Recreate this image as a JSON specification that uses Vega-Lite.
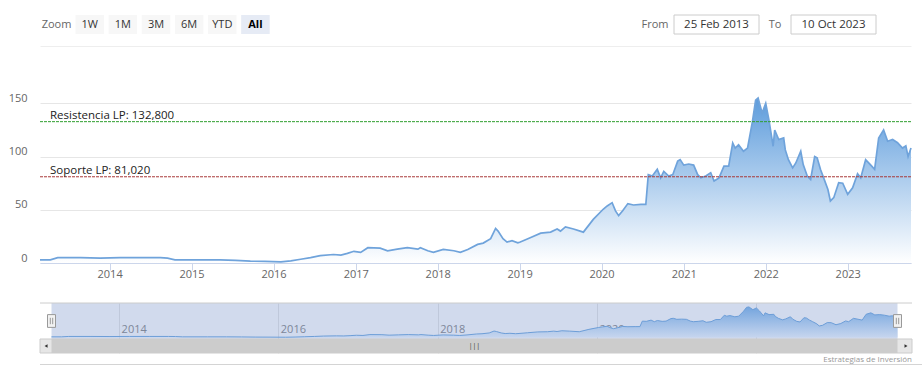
{
  "$schema": "https://vega.github.io/schema/vega-lite/v6.json",
  "autosize": {"type": "pad"},
  "padding": {"left": 6, "top": 14, "right": 0, "bottom": 4},
  "background": "white",
  "config": {"font": "Open Sans", "view": {"stroke": null}},
  "datasets": {
    "serie": [
      {"fecha": "2013-02-25", "valor": 3},
      {"fecha": "2013-04-12", "valor": 3},
      {"fecha": "2013-05-15", "valor": 5},
      {"fecha": "2013-08-25", "valor": 5},
      {"fecha": "2013-11-20", "valor": 4.5},
      {"fecha": "2014-02-17", "valor": 5},
      {"fecha": "2014-05-19", "valor": 5},
      {"fecha": "2014-08-15", "valor": 5},
      {"fecha": "2014-09-16", "valor": 4.5},
      {"fecha": "2014-10-19", "valor": 3},
      {"fecha": "2015-02-10", "valor": 3},
      {"fecha": "2015-05-08", "valor": 3},
      {"fecha": "2015-07-16", "valor": 2.5},
      {"fecha": "2015-09-20", "valor": 1.7},
      {"fecha": "2015-11-24", "valor": 1.5},
      {"fecha": "2016-02-03", "valor": 1},
      {"fecha": "2016-03-18", "valor": 2},
      {"fecha": "2016-05-01", "valor": 3.5},
      {"fecha": "2016-06-14", "valor": 5},
      {"fecha": "2016-07-27", "valor": 7},
      {"fecha": "2016-09-24", "valor": 8},
      {"fecha": "2016-10-27", "valor": 7.5},
      {"fecha": "2016-11-25", "valor": 9},
      {"fecha": "2016-12-24", "valor": 11},
      {"fecha": "2017-01-23", "valor": 10},
      {"fecha": "2017-02-24", "valor": 14.4},
      {"fecha": "2017-04-20", "valor": 14},
      {"fecha": "2017-05-23", "valor": 11.5},
      {"fecha": "2017-07-05", "valor": 13},
      {"fecha": "2017-08-19", "valor": 14.4},
      {"fecha": "2017-10-05", "valor": 13},
      {"fecha": "2017-10-16", "valor": 14.4},
      {"fecha": "2017-11-18", "valor": 11.5},
      {"fecha": "2017-12-13", "valor": 10},
      {"fecha": "2018-01-26", "valor": 12.7},
      {"fecha": "2018-03-14", "valor": 11.5},
      {"fecha": "2018-04-12", "valor": 10},
      {"fecha": "2018-05-15", "valor": 12.7},
      {"fecha": "2018-06-28", "valor": 17.5},
      {"fecha": "2018-07-23", "valor": 18.7},
      {"fecha": "2018-08-25", "valor": 22.8},
      {"fecha": "2018-09-16", "valor": 32.5},
      {"fecha": "2018-09-27", "valor": 30},
      {"fecha": "2018-10-19", "valor": 22.8},
      {"fecha": "2018-11-06", "valor": 19.7},
      {"fecha": "2018-11-28", "valor": 21},
      {"fecha": "2018-12-24", "valor": 19},
      {"fecha": "2019-01-04", "valor": 19.7},
      {"fecha": "2019-02-17", "valor": 23.7},
      {"fecha": "2019-04-05", "valor": 28},
      {"fecha": "2019-05-19", "valor": 29},
      {"fecha": "2019-06-17", "valor": 32},
      {"fecha": "2019-07-02", "valor": 30},
      {"fecha": "2019-07-24", "valor": 34},
      {"fecha": "2019-08-29", "valor": 32},
      {"fecha": "2019-10-12", "valor": 29},
      {"fecha": "2019-11-25", "valor": 41},
      {"fecha": "2020-01-08", "valor": 50.5},
      {"fecha": "2020-01-26", "valor": 53.6},
      {"fecha": "2020-02-17", "valor": 56.7},
      {"fecha": "2020-03-03", "valor": 49},
      {"fecha": "2020-03-17", "valor": 44.5},
      {"fecha": "2020-04-04", "valor": 49},
      {"fecha": "2020-04-27", "valor": 55.8},
      {"fecha": "2020-05-22", "valor": 54.5},
      {"fecha": "2020-06-24", "valor": 55},
      {"fecha": "2020-07-16", "valor": 55},
      {"fecha": "2020-07-27", "valor": 83},
      {"fecha": "2020-08-14", "valor": 81.7},
      {"fecha": "2020-09-05", "valor": 88},
      {"fecha": "2020-09-20", "valor": 80},
      {"fecha": "2020-10-04", "valor": 86},
      {"fecha": "2020-10-26", "valor": 81.7},
      {"fecha": "2020-11-13", "valor": 83},
      {"fecha": "2020-12-05", "valor": 95.7},
      {"fecha": "2020-12-16", "valor": 97.2},
      {"fecha": "2021-01-01", "valor": 92},
      {"fecha": "2021-01-23", "valor": 93},
      {"fecha": "2021-02-14", "valor": 92},
      {"fecha": "2021-03-04", "valor": 83},
      {"fecha": "2021-03-18", "valor": 80},
      {"fecha": "2021-04-09", "valor": 81.7},
      {"fecha": "2021-05-01", "valor": 84.8},
      {"fecha": "2021-05-16", "valor": 77},
      {"fecha": "2021-06-07", "valor": 80},
      {"fecha": "2021-06-29", "valor": 91},
      {"fecha": "2021-07-20", "valor": 91},
      {"fecha": "2021-08-07", "valor": 112.8},
      {"fecha": "2021-08-18", "valor": 108},
      {"fecha": "2021-09-02", "valor": 111},
      {"fecha": "2021-09-24", "valor": 105},
      {"fecha": "2021-10-12", "valor": 108},
      {"fecha": "2021-11-03", "valor": 133},
      {"fecha": "2021-11-17", "valor": 153},
      {"fecha": "2021-11-28", "valor": 155},
      {"fecha": "2021-12-16", "valor": 141},
      {"fecha": "2022-01-01", "valor": 150},
      {"fecha": "2022-01-15", "valor": 134.6},
      {"fecha": "2022-02-03", "valor": 109.7},
      {"fecha": "2022-02-10", "valor": 125},
      {"fecha": "2022-02-28", "valor": 116},
      {"fecha": "2022-03-22", "valor": 117.5},
      {"fecha": "2022-03-29", "valor": 106.5},
      {"fecha": "2022-04-12", "valor": 97},
      {"fecha": "2022-05-01", "valor": 89.4},
      {"fecha": "2022-05-15", "valor": 94},
      {"fecha": "2022-06-06", "valor": 105},
      {"fecha": "2022-06-17", "valor": 92.5},
      {"fecha": "2022-07-05", "valor": 81.7},
      {"fecha": "2022-07-20", "valor": 78.5},
      {"fecha": "2022-08-07", "valor": 100},
      {"fecha": "2022-08-18", "valor": 98.8},
      {"fecha": "2022-09-02", "valor": 87.9},
      {"fecha": "2022-09-16", "valor": 80},
      {"fecha": "2022-10-05", "valor": 69},
      {"fecha": "2022-10-16", "valor": 58.3},
      {"fecha": "2022-10-31", "valor": 61.4},
      {"fecha": "2022-11-22", "valor": 75.4},
      {"fecha": "2022-12-10", "valor": 75},
      {"fecha": "2023-01-01", "valor": 64.5},
      {"fecha": "2023-01-23", "valor": 70.7},
      {"fecha": "2023-02-14", "valor": 83.8},
      {"fecha": "2023-02-28", "valor": 80},
      {"fecha": "2023-03-22", "valor": 97},
      {"fecha": "2023-04-12", "valor": 92.5},
      {"fecha": "2023-05-01", "valor": 88},
      {"fecha": "2023-05-19", "valor": 117.5},
      {"fecha": "2023-06-10", "valor": 125},
      {"fecha": "2023-06-28", "valor": 114.4},
      {"fecha": "2023-07-20", "valor": 116},
      {"fecha": "2023-08-11", "valor": 113},
      {"fecha": "2023-09-02", "valor": 108},
      {"fecha": "2023-09-17", "valor": 110},
      {"fecha": "2023-09-27", "valor": 100},
      {"fecha": "2023-10-10", "valor": 108}
    ]
  },
  "spacing": 0,
  "vconcat": [
    {
      "bounds": "flush",
      "spacing": 5,
      "hconcat": [
        {
          "width": 232,
          "height": 19,
          "data": {"values": [{"b": "Zoom"}, {"b": "1W"}, {"b": "1M"}, {"b": "3M"}, {"b": "6M"}, {"b": "YTD"}, {"b": "All"}]},
          "encoding": {
            "x": {"field": "b", "type": "nominal", "sort": null, "axis": null,
                  "scale": {"domain": ["Zoom", "1W", "1M", "3M", "6M", "YTD", "All"], "paddingInner": 0.14, "paddingOuter": 0.07}}
          },
          "layer": [
            {
              "transform": [{"filter": "datum.b !== 'Zoom'"}],
              "mark": {"type": "rect"},
              "encoding": {"fill": {"condition": {"test": "datum.b === 'All'", "value": "#e6ebf5"}, "value": "#f7f7f7"}}
            },
            {
              "transform": [{"filter": "datum.b !== 'All'"}],
              "mark": {"type": "text", "fontSize": 11},
              "encoding": {
                "text": {"field": "b"},
                "color": {"condition": {"test": "datum.b === 'Zoom'", "value": "#666666"}, "value": "#333333"}
              }
            },
            {
              "transform": [{"filter": "datum.b === 'All'"}],
              "mark": {"type": "text", "fontSize": 11, "fontWeight": "bold", "color": "#000000"},
              "encoding": {"text": {"field": "b"}}
            },
            {
              "transform": [{"filter": "datum.b === 'All'"}],
              "mark": {"type": "rule", "opacity": 0},
              "encoding": {
                "x": {"field": "b", "type": "nominal"},
                "y": {"datum": 0, "type": "quantitative",
                      "axis": {"title": null, "labels": false, "ticks": false, "domain": false, "grid": false, "minExtent": 34, "maxExtent": 34}}
              }
            }
          ]
        },
        {
          "width": 359, "height": 19,
          "data": {"values": [{"a": 1}]},
          "mark": {"type": "rect", "opacity": 0},
          "encoding": {}
        },
        {
          "width": 28, "height": 19,
          "data": {"values": [{"t": "From"}]},
          "mark": {"type": "text", "fontSize": 11, "color": "#666666"},
          "encoding": {"text": {"field": "t"}}
        },
        {
          "width": 85, "height": 19,
          "data": {"values": [{"t": "25 Feb 2013"}]},
          "layer": [
            {"mark": {"type": "rect", "fill": "#ffffff", "stroke": "#cccccc", "strokeWidth": 1}, "encoding": {}},
            {"mark": {"type": "text", "fontSize": 11.5, "color": "#333333"}, "encoding": {"text": {"field": "t"}}}
          ]
        },
        {
          "width": 22, "height": 19,
          "data": {"values": [{"t": "To"}]},
          "mark": {"type": "text", "fontSize": 11, "color": "#666666"},
          "encoding": {"text": {"field": "t"}}
        },
        {
          "width": 85, "height": 19,
          "data": {"values": [{"t": "10 Oct 2023"}]},
          "layer": [
            {"mark": {"type": "rect", "fill": "#ffffff", "stroke": "#cccccc", "strokeWidth": 1}, "encoding": {}},
            {"mark": {"type": "text", "fontSize": 11.5, "color": "#333333"}, "encoding": {"text": {"field": "t"}}}
          ]
        }
      ]
    },
    {
      "width": 871,
      "height": 174,
      "resolve": {"axis": {"x": "independent"}},
      "layer": [
        {
          "data": {"name": "serie"},
          "mark": {
            "type": "area",
            "fillOpacity": 1,
            "color": {"x1": 0, "y1": 0, "x2": 0, "y2": 1, "gradient": "linear",
                      "stops": [{"offset": 0, "color": "#5d9cdc"}, {"offset": 1, "color": "#ffffff"}]},
            "line": {"color": "#6fa3db", "strokeWidth": 1.7}
          },
          "encoding": {
            "x": {
              "field": "fecha", "type": "temporal",
              "scale": {"domain": [{"year": 2013, "month": 2, "date": 25}, {"year": 2023, "month": 10, "date": 10}]},
              "axis": {"title": null, "orient": "bottom", "format": "%Y", "tickCount": {"interval": "year", "step": 1}, "grid": false,
                       "domainColor": "#ccd6eb", "tickColor": "#ccd6eb", "tickSize": 7, "labelPadding": -2,
                       "labelColor": "#666666", "labelFontSize": 11, "labelFlush": false, "labelOverlap": false, "minExtent": 39}
            },
            "y": {
              "field": "valor", "type": "quantitative",
              "scale": {"domain": [0, 163.5], "nice": false},
              "axis": {"title": null, "values": [0, 50, 100, 150], "domain": false, "ticks": false, "grid": true,
                       "gridColor": "#e6e6e6", "labelPadding": 13, "labelColor": "#666666", "labelFontSize": 11,
                       "labelBaseline": "alphabetic", "labelOffset": -2, "minExtent": 34}
            }
          }
        },
        {
          "data": {"values": [{"nivel": "Resistencia LP", "valor": 132.8}]},
          "mark": {"type": "rule", "strokeWidth": 1, "strokeDash": [3, 1], "color": "#2f9e2f"},
          "encoding": {"y": {"field": "valor", "type": "quantitative"}}
        },
        {
          "data": {"values": [{"nivel": "Soporte LP", "valor": 81.02}]},
          "mark": {"type": "rule", "strokeWidth": 1, "strokeDash": [3, 1], "color": "#a83838"},
          "encoding": {"y": {"field": "valor", "type": "quantitative"}}
        },
        {
          "data": {"values": [{"etiqueta": "Resistencia LP: 132,800", "valor": 132.8}, {"etiqueta": "Soporte LP: 81,020", "valor": 81.02}]},
          "mark": {"type": "text", "align": "left", "baseline": "alphabetic", "dx": 10, "dy": -3, "fontSize": 11.5, "color": "#222222"},
          "encoding": {
            "x": {"datum": {"year": 2013, "month": 2, "date": 25}, "type": "temporal",
                  "axis": {"title": null, "orient": "top", "offset": 43, "minExtent": 11, "maxExtent": 11,
                           "domain": true, "domainColor": "#eeeeee", "labels": false, "ticks": false, "grid": false}},
            "y": {"field": "valor", "type": "quantitative"},
            "text": {"field": "etiqueta"}
          }
        }
      ]
    },
    {
      "width": 872,
      "height": 50,
      "title": {"text": "Estrategias de Inversión", "orient": "bottom", "anchor": "end", "frame": "group", "fontSize": 8,
                "fontWeight": "normal", "color": "#999999", "offset": 2},
      "layer": [
        {
          "data": {"values": [{"a": 1}]},
          "mark": {"type": "rect", "fill": "#6685c2", "opacity": 0.3},
          "encoding": {
            "x": {
              "datum": {"year": 2013, "month": 2, "date": 25}, "type": "temporal",
              "scale": {"domain": [{"year": 2013, "month": 2, "date": 25}, {"year": 2023, "month": 10, "date": 10}], "range": [11.5, 857.5]},
              "axis": {"title": null, "orient": "bottom", "format": "%Y", "tickCount": {"interval": "year", "step": 2},
                       "grid": true, "gridColor": "#e6e6e6", "domain": false, "ticks": false, "tickSize": 0,
                       "labelAlign": "left", "labelPadding": -30, "labelOffset": 2, "labelColor": "#888888",
                       "labelFontSize": 11, "labelFlush": false, "labelOverlap": false}
            },
            "x2": {"datum": {"year": 2023, "month": 10, "date": 10}},
            "y": {"datum": 175, "type": "quantitative",
                  "scale": {"domain": [-79.17, 175], "nice": false, "zero": false},
                  "axis": {"title": null, "labels": false, "ticks": false, "domain": false, "grid": false, "minExtent": 34, "maxExtent": 34}},
            "y2": {"datum": -8}
          }
        },
        {
          "data": {"name": "serie"},
          "mark": {
            "type": "area",
            "fillOpacity": 1,
            "color": {"x1": 0, "y1": 0, "x2": 0, "y2": 1, "gradient": "linear",
                      "stops": [{"offset": 0, "color": "#74a5de"}, {"offset": 1, "color": "#c6d5ee"}]},
            "line": {"color": "#6d9ed8", "strokeWidth": 1}
          },
          "encoding": {
            "x": {"field": "fecha", "type": "temporal"},
            "y": {"field": "valor", "type": "quantitative"},
            "y2": {"datum": 0}
          }
        },
        {
          "data": {"values": [{"a": 1}]},
          "mark": {"type": "rule", "color": "#cccccc", "strokeWidth": 1},
          "encoding": {"y": {"datum": 175, "type": "quantitative"}}
        },
        {
          "data": {"values": [{"a": 1}]},
          "mark": {"type": "rect", "fill": "#e6e6e6", "stroke": "#cccccc", "strokeWidth": 1},
          "encoding": {"y": {"datum": -8, "type": "quantitative"}, "y2": {"datum": -79.17}}
        },
        {
          "data": {"values": [{"a": 1}]},
          "mark": {"type": "rect", "fill": "#cccccc"},
          "encoding": {
            "x": {"datum": {"year": 2013, "month": 2, "date": 25}, "type": "temporal"},
            "x2": {"datum": {"year": 2023, "month": 10, "date": 10}},
            "y": {"datum": -8, "type": "quantitative"},
            "y2": {"datum": -79.17}
          }
        },
        {
          "data": {"values": [{"a": 1}]},
          "mark": {"type": "text", "fontSize": 7, "color": "#333333"},
          "encoding": {
            "x": {"datum": {"year": 2018, "month": 6, "date": 18}, "type": "temporal"},
            "y": {"datum": -43.6, "type": "quantitative"},
            "text": {"value": "|||"}
          }
        },
        {
          "data": {"values": [{"a": 1}]},
          "mark": {"type": "point", "shape": "triangle-left", "filled": true, "size": 12, "color": "#333333", "opacity": 1},
          "encoding": {
            "x": {"datum": {"year": 2013, "month": 1, "date": 31}, "type": "temporal"},
            "y": {"datum": -43.6, "type": "quantitative"}
          }
        },
        {
          "data": {"values": [{"a": 1}]},
          "mark": {"type": "point", "shape": "triangle-right", "filled": true, "size": 12, "color": "#333333", "opacity": 1},
          "encoding": {
            "x": {"datum": {"year": 2023, "month": 11, "date": 18}, "type": "temporal"},
            "y": {"datum": -43.6, "type": "quantitative"}
          }
        },
        {
          "data": {"values": [{"extremo": "inicio", "fecha": "2013-02-25"}, {"extremo": "fin", "fecha": "2023-10-10"}]},
          "mark": {"type": "point", "shape": "M-0.5,-0.8H0.5V0.8H-0.5Z M-0.15,-0.4V0.4 M0.15,-0.4V0.4",
                   "size": 256, "filled": false, "fill": "#f2f2f2", "fillOpacity": 1, "stroke": "#999999", "strokeWidth": 1, "opacity": 1},
          "encoding": {
            "x": {"field": "fecha", "type": "temporal"},
            "y": {"datum": 83.5, "type": "quantitative"}
          }
        }
      ]
    },
    {
      "width": 912, "height": 1,
      "data": {"values": [{"a": 1}]},
      "layer": [
        {"mark": {"type": "rect", "fill": "#d4d4d4"}, "encoding": {}},
        {
          "mark": {"type": "rule", "opacity": 0},
          "encoding": {"y": {"datum": 0, "type": "quantitative",
                             "axis": {"title": null, "labels": false, "ticks": false, "domain": false, "grid": false, "minExtent": 30, "maxExtent": 30}}}
        }
      ]
    }
  ]
}
